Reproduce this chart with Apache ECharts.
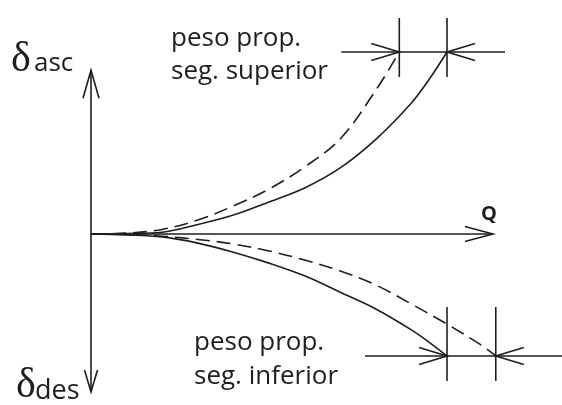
<!DOCTYPE html>
<html>
<head>
<meta charset="utf-8">
<script src="https://cdn.jsdelivr.net/npm/echarts@6/dist/echarts.min.js"></script>
<style>
  html, body { margin: 0; padding: 0; background: #ffffff; }
  #chart { width: 562px; height: 405px; }
</style>
</head>
<body>
<div id="chart"></div>
<script>
// Load Q (horizontal) against displacement δ: ascending segment above the Q axis,
// descending segment below. Solid = without own weight, dashed = with own weight.
const qSolid        = [0, 1, 2, 3, 4, 5, 6, 7, 8, 9, 9.5, 10];
const dAscSolid     = [0, 0.03, 0.1, 0.52, 1.04, 1.76, 2.53, 3.63, 5.2, 7.2, 8.5, 10];
const dDesSolid     = [0, -0.05, -0.16, -0.5, -1.0, -1.6, -2.3, -3.2, -4.12, -5.27, -5.95, -6.7];

const qAscDashed    = [0, 1, 2, 3, 4, 5, 6, 7, 8, 8.66];
const dAscDashed    = [0, 0.05, 0.25, 0.77, 1.54, 2.47, 3.68, 5.22, 7.9, 10];

const qDesDashed    = [0, 1, 2, 3, 4, 5, 6, 7, 8, 9, 10, 11, 11.37];
const dDesDashed    = [0, -0.03, -0.12, -0.3, -0.55, -0.93, -1.43, -2.03, -2.8, -3.85, -4.95, -6.15, -6.7];

// Axis extents (data units)
const qAxisEnd = 11.29;
const dAxisTop = 9.0;
const dAxisBottom = -8.68;

// Text
const labelAsc = ['δ', 'asc'];
const labelDes = ['δ', 'des'];
const labelQ = 'Q';
const noteUpper = ['peso prop.', 'seg. superior'];
const noteLower = ['peso prop.', 'seg. inferior'];

// Layout
const W = 562, H = 405;
const ORIGIN_X = 91, ORIGIN_Y = 234;
const PX_Q = 35.6, PX_D = 18.2;
const INK = '#1e1e1e';
const LW = 1.6;
const SANS = '"Open Sans", "Noto Sans", sans-serif';
const SERIF = '"Liberation Serif", "DejaVu Serif", serif';

const zip = (xs, ys) => xs.map((x, i) => [x, ys[i]]);
const last = a => a[a.length - 1];

function curve(name, xs, ys, dashed) {
  return {
    name, type: 'line', data: zip(xs, ys),
    smooth: 0.35, showSymbol: false, silent: true,
    lineStyle: { color: INK, width: LW, type: dashed ? [14, 7] : 'solid' }
  };
}

function renderFrame(params, api) {
  const P = (q, d) => api.coord([q, d]);
  const children = [];
  const seg = (a, b) => children.push({
    type: 'line', shape: { x1: a[0], y1: a[1], x2: b[0], y2: b[1] },
    style: { stroke: INK, lineWidth: LW }
  });
  // open arrowhead: (dx, dy) is the pointing direction
  const chevron = (tip, dx, dy, len, half) => {
    const bx = tip[0] - dx * len, by = tip[1] - dy * len;
    const px = -dy, py = dx;
    children.push({
      type: 'polyline',
      shape: { points: [[bx + px * half, by + py * half], tip, [bx - px * half, by - py * half]] },
      style: { stroke: INK, lineWidth: LW, fill: null }
    });
  };

  // axes
  const o = P(0, 0);
  const qTip = P(qAxisEnd, 0);
  seg(o, qTip);
  chevron(qTip, 1, 0, 28, 7.5);
  const up = P(0, dAxisTop), down = P(0, dAxisBottom);
  seg(up, down);
  chevron(up, 0, -1, 28, 8);
  chevron(down, 0, 1, 22, 6.5);

  // upper dimension: own-weight shift of the ascending segment
  const a = P(last(qAscDashed), last(dAscDashed));
  const b = P(last(qSolid), last(dAscSolid));
  seg([a[0] - 58, a[1]], [b[0] + 58, b[1]]);
  seg([a[0], a[1] - 34], [a[0], a[1] + 25]);
  seg([b[0], b[1] - 34], [b[0], b[1] + 25]);
  chevron(a, 1, 0, 28, 8.5);
  chevron(b, -1, 0, 28, 8.5);

  // lower dimension: own-weight shift of the descending segment
  const c = P(last(qSolid), last(dDesSolid));
  const e = P(last(qDesDashed), last(dDesDashed));
  seg([c[0] - 82, c[1]], [W, e[1]]);
  seg([c[0], c[1] - 49], [c[0], c[1] + 25]);
  seg([e[0], e[1] - 49], [e[0], e[1] + 25]);
  chevron(c, 1, 0, 28, 8.5);
  chevron(e, -1, 0, 28, 8.5);

  return { type: 'group', children };
}

function txt(text, x, y, size, family, weight, align) {
  return {
    type: 'text', x, y, silent: true,
    style: {
      text, fill: INK, fontSize: size, fontFamily: family,
      fontWeight: weight || 'normal', align: align || 'left', verticalAlign: 'middle'
    }
  };
}

const chart = echarts.init(document.getElementById('chart'), null, { renderer: 'canvas' });
chart.setOption({
  backgroundColor: '#ffffff',
  animation: false,
  grid: { left: 0, right: 0, top: 0, bottom: 0 },
  xAxis: { type: 'value', min: -ORIGIN_X / PX_Q, max: (W - ORIGIN_X) / PX_Q, show: false },
  yAxis: { type: 'value', min: -(H - ORIGIN_Y) / PX_D, max: ORIGIN_Y / PX_D, show: false },
  series: [
    curve('asc', qSolid, dAscSolid, false),
    curve('asc peso', qAscDashed, dAscDashed, true),
    curve('des', qSolid, dDesSolid, false),
    curve('des peso', qDesDashed, dDesDashed, true),
    { type: 'custom', renderItem: renderFrame, data: [[0, 0]], silent: true, z: 3 }
  ],
  graphic: [
    txt(labelAsc[0], 11, 60, 42, SERIF),
    txt(labelAsc[1], 34, 64, 26, SANS),
    txt(labelDes[0], 16, 386, 42, SERIF),
    txt(labelDes[1], 35, 391, 27, SANS),
    txt(labelQ, 489, 214, 20, SANS, 'bold', 'center'),
    txt(noteUpper[0], 171, 39, 26, SANS),
    txt(noteUpper[1], 171, 72, 26, SANS),
    txt(noteLower[0], 194, 343, 26, SANS),
    txt(noteLower[1], 194, 377, 26, SANS)
  ]
});
</script>
</body>
</html>
